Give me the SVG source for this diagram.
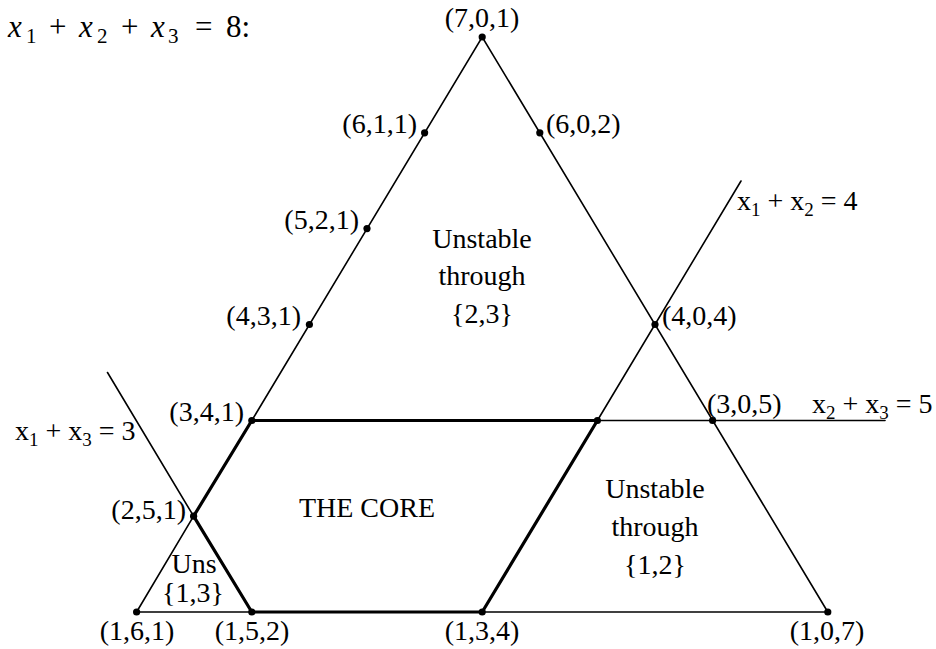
<svg xmlns="http://www.w3.org/2000/svg" width="936" height="649" viewBox="0 0 936 649">
<style>
.thin{stroke:#000;stroke-width:1.6;fill:none;stroke-linecap:round}
.thick{stroke:#000;stroke-width:3.2;fill:none;stroke-linecap:round;stroke-linejoin:round}
text{font-size:28px;fill:#000}
.m{text-anchor:middle}
.e{text-anchor:end}
.sub{font-size:19px}
.tsub{font-size:21px}
.dot{fill:#000}
</style>
<rect width="936" height="649" fill="#fff"/>
<g id="connectors">
  <polyline class="thin" points="251.8,420.5 482.2,37 827.8,612"/>
  <line class="thin" x1="193.6" y1="516.2" x2="136.6" y2="612"/>
  <line class="thin" x1="136.6" y1="612" x2="251.8" y2="612"/>
  <line class="thin" x1="482.2" y1="612" x2="827.8" y2="612"/>
  <line class="thin" x1="597.4" y1="420.5" x2="741" y2="181"/>
  <line class="thin" x1="597.4" y1="420.5" x2="885" y2="420.5"/>
  <line class="thin" x1="193.6" y1="516.2" x2="107.5" y2="372.5"/>
  <polygon class="thick" points="251.8,420.5 597.4,420.5 482.2,612 251.8,612 193.6,516.2"/>
</g>
<g id="dots">
  <circle class="dot" cx="482.2" cy="37" r="3.6"/>
  <circle class="dot" cx="424.6" cy="132.8" r="3.6"/>
  <circle class="dot" cx="539.8" cy="132.8" r="3.6"/>
  <circle class="dot" cx="367" cy="228.6" r="3.6"/>
  <circle class="dot" cx="309.4" cy="324.5" r="3.6"/>
  <circle class="dot" cx="655" cy="324.5" r="3.6"/>
  <circle class="dot" cx="251.8" cy="420.5" r="3.6"/>
  <circle class="dot" cx="597.4" cy="420.5" r="3.6"/>
  <circle class="dot" cx="712.6" cy="420.5" r="3.6"/>
  <circle class="dot" cx="193.6" cy="516.2" r="3.6"/>
  <circle class="dot" cx="136.6" cy="612" r="3.6"/>
  <circle class="dot" cx="251.8" cy="612" r="3.6"/>
  <circle class="dot" cx="482.2" cy="612" r="3.6"/>
  <circle class="dot" cx="827.8" cy="612" r="3.6"/>
</g>
<g id="all-text" font-family="'Liberation Serif', Tinos, 'Times New Roman', Times, 'DejaVu Serif', serif">
<g id="title">
  <text y="37" style="font-size:31px"><tspan x="8" font-style="italic">x</tspan><tspan x="26" y="43" class="tsub">1</tspan><tspan x="49" y="37">+</tspan><tspan x="79" font-style="italic">x</tspan><tspan x="97" y="43" class="tsub">2</tspan><tspan x="121" y="37">+</tspan><tspan x="151" font-style="italic">x</tspan><tspan x="168" y="43" class="tsub">3</tspan><tspan x="195" y="37">=</tspan><tspan x="226">8:</tspan></text>
</g>
<g id="labels">
  <text class="m" x="482" y="27">(7,0,1)</text>
  <text class="e" x="417" y="133">(6,1,1)</text>
  <text x="546" y="133">(6,0,2)</text>
  <text class="e" x="359" y="229">(5,2,1)</text>
  <text class="e" x="301" y="325">(4,3,1)</text>
  <text x="662" y="325">(4,0,4)</text>
  <text class="e" x="244" y="421">(3,4,1)</text>
  <text x="707" y="413">(3,0,5)</text>
  <text class="e" x="186" y="519">(2,5,1)</text>
  <text class="m" x="137" y="640">(1,6,1)</text>
  <text class="m" x="252" y="640">(1,5,2)</text>
  <text class="m" x="482" y="640">(1,3,4)</text>
  <text class="m" x="827" y="640">(1,0,7)</text>
</g>
<g id="lines-labels">
  <text x="737" y="210">x<tspan class="sub" dy="6">1</tspan><tspan dy="-6"> + x</tspan><tspan class="sub" dy="6">2</tspan><tspan dy="-6"> = 4</tspan></text>
  <text x="812" y="413">x<tspan class="sub" dy="6">2</tspan><tspan dy="-6"> + x</tspan><tspan class="sub" dy="6">3</tspan><tspan dy="-6"> = 5</tspan></text>
  <text x="15" y="440">x<tspan class="sub" dy="6">1</tspan><tspan dy="-6"> + x</tspan><tspan class="sub" dy="6">3</tspan><tspan dy="-6"> = 3</tspan></text>
</g>
<g id="region-23">
  <text class="m" x="482" y="248">Unstable</text>
  <text class="m" x="482" y="285">through</text>
  <text class="m" x="482" y="323">{2,3}</text>
</g>
<g id="region-12">
  <text class="m" x="655" y="498">Unstable</text>
  <text class="m" x="655" y="536">through</text>
  <text class="m" x="655" y="574">{1,2}</text>
</g>
<g id="core">
  <text class="m" x="367" y="517">THE CORE</text>
</g>
<g id="region-13">
  <text class="m" x="194" y="573">Uns</text>
  <text class="m" x="193" y="602">{1,3}</text>
</g>
</g>
</svg>
